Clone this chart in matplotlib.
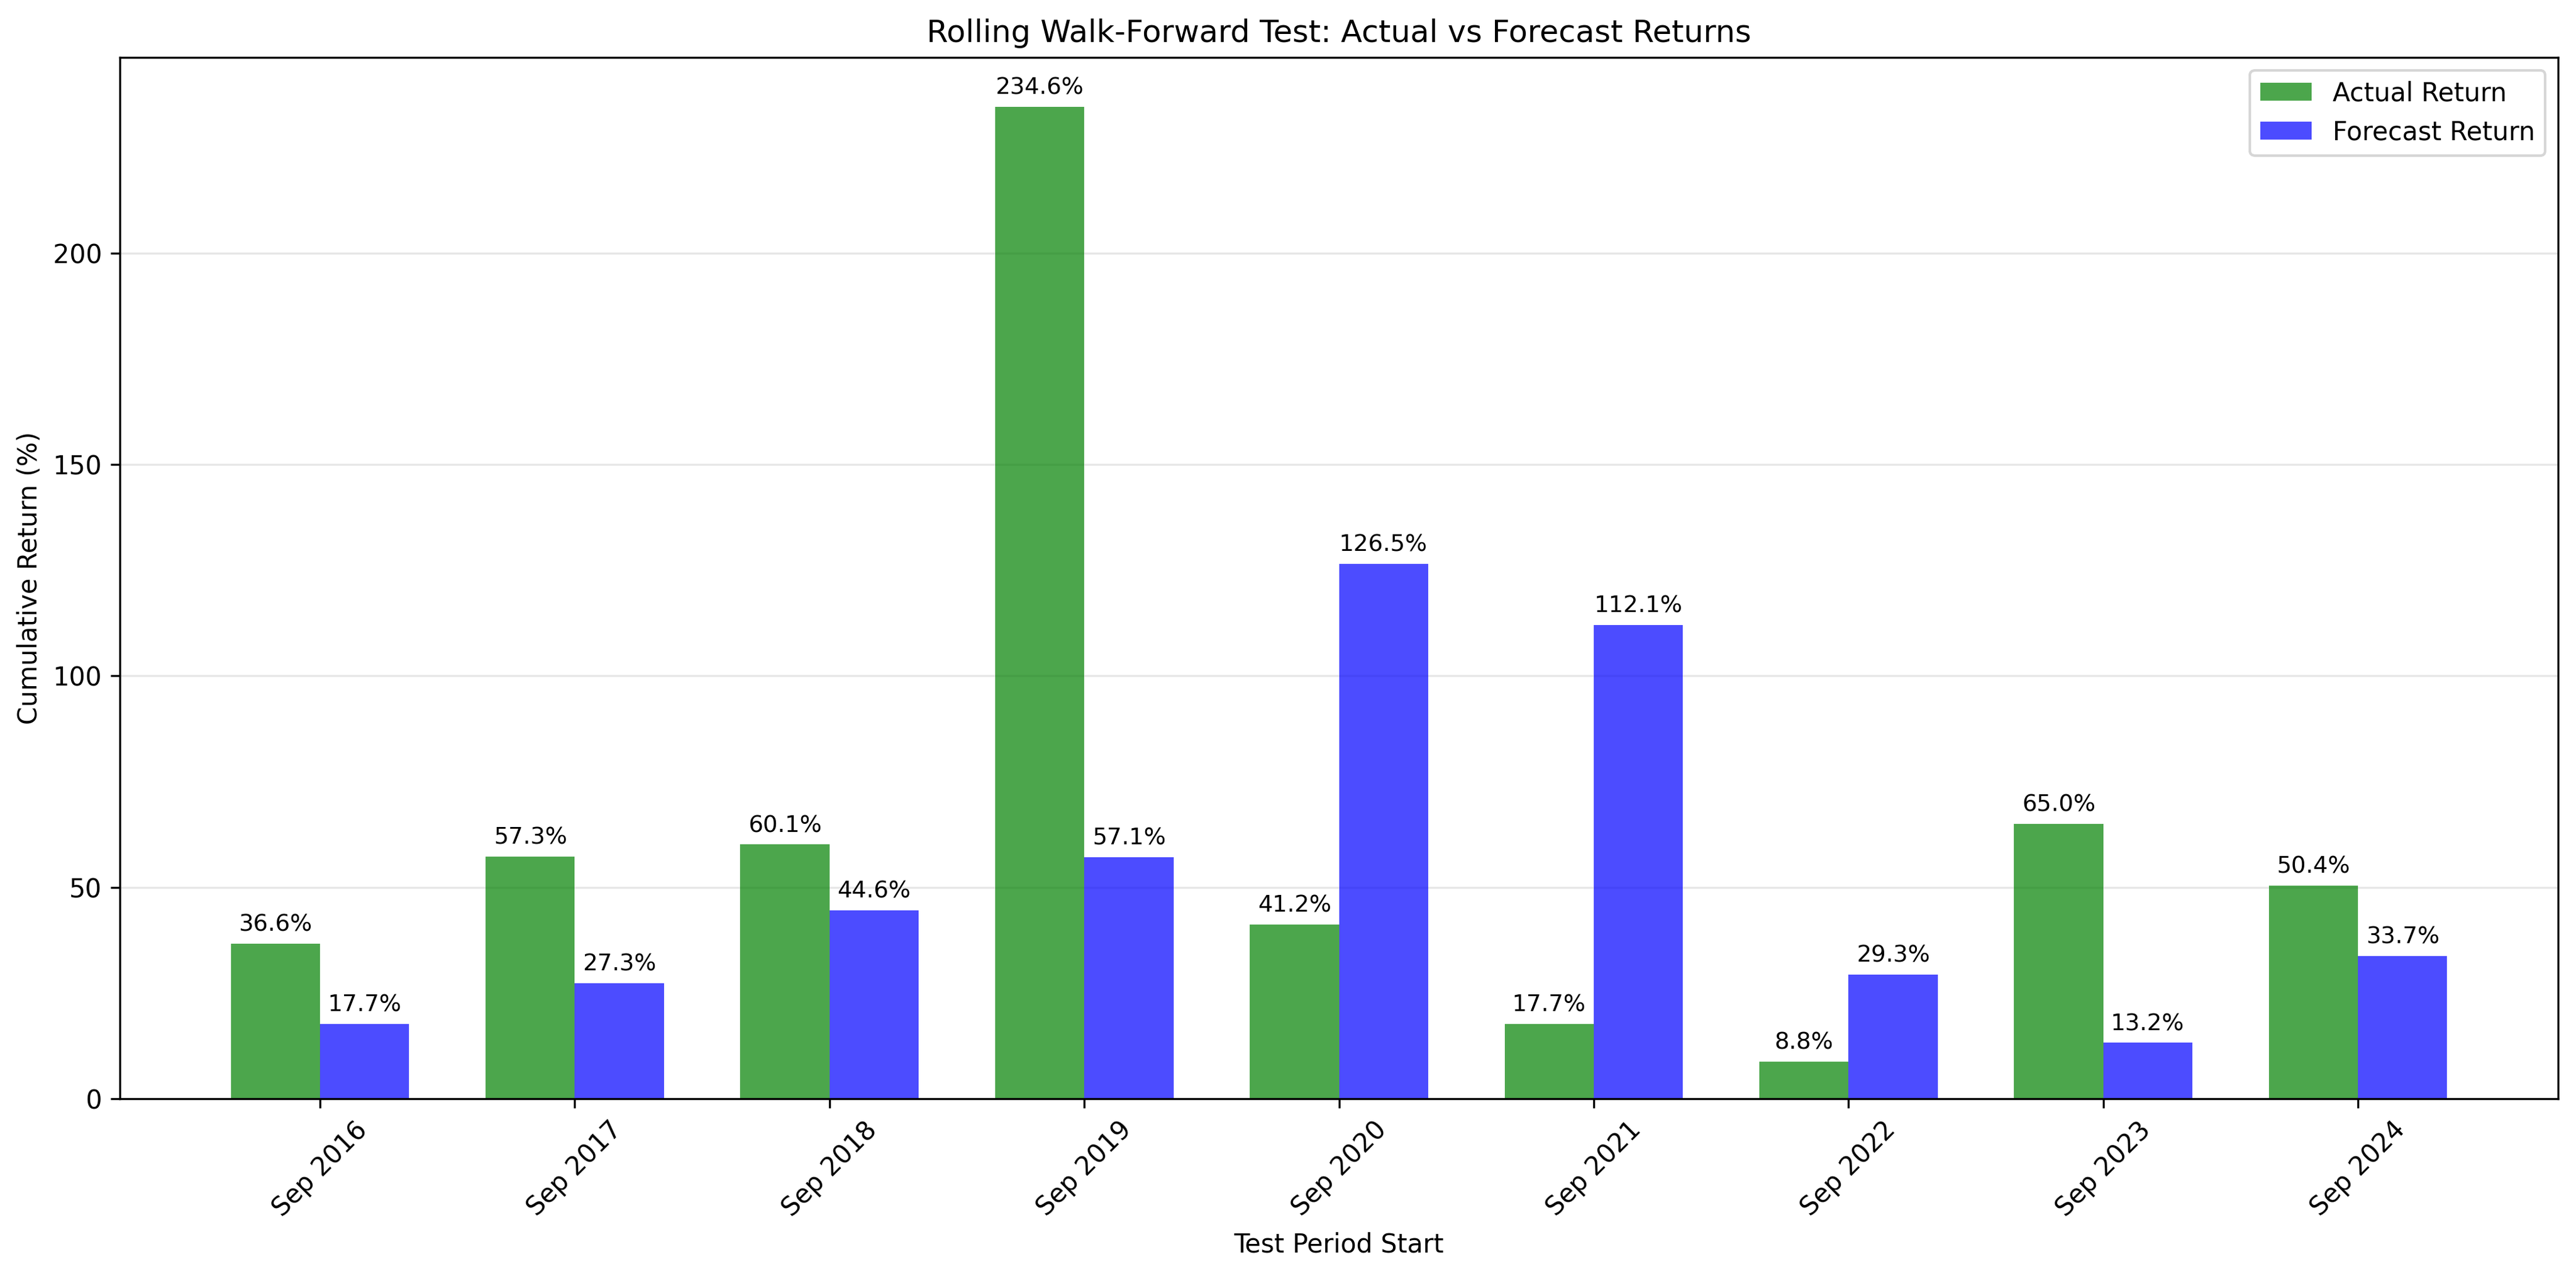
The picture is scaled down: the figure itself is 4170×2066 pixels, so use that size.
import matplotlib
matplotlib.use("Agg")
import matplotlib.pyplot as plt
import numpy as np

periods = ["Sep 2016", "Sep 2017", "Sep 2018", "Sep 2019", "Sep 2020",
           "Sep 2021", "Sep 2022", "Sep 2023", "Sep 2024"]
actual = [36.6, 57.3, 60.1, 234.6, 41.2, 17.7, 8.8, 65.0, 50.4]
forecast = [17.7, 27.3, 44.6, 57.1, 126.5, 112.1, 29.3, 13.2, 33.7]

fig, ax = plt.subplots(figsize=(13.9, 6.887), dpi=300)
x = np.arange(len(periods))
w = 0.35
b1 = ax.bar(x - w/2, actual, w, label="Actual Return", color="green", alpha=0.7)
b2 = ax.bar(x + w/2, forecast, w, label="Forecast Return", color="blue", alpha=0.7)

for bars in (b1, b2):
    for bar in bars:
        h = bar.get_height()
        ax.annotate(f"{h:.1f}%", xy=(bar.get_x() + bar.get_width()/2, h),
                    xytext=(0, 3), textcoords="offset points",
                    ha="center", va="bottom", fontsize=9)

ax.set_xticks(x)
ax.set_xticklabels(periods, rotation=45)
ax.set_xlabel("Test Period Start")
ax.set_ylabel("Cumulative Return (%)")
ax.set_title("Rolling Walk-Forward Test: Actual vs Forecast Returns")
ax.legend()
ax.grid(True, axis="y", alpha=0.3)
ax.set_axisbelow(True)

fig.subplots_adjust(left=0.0466, right=0.993, top=0.955, bottom=0.139)
fig.savefig("out.png", dpi=300)
